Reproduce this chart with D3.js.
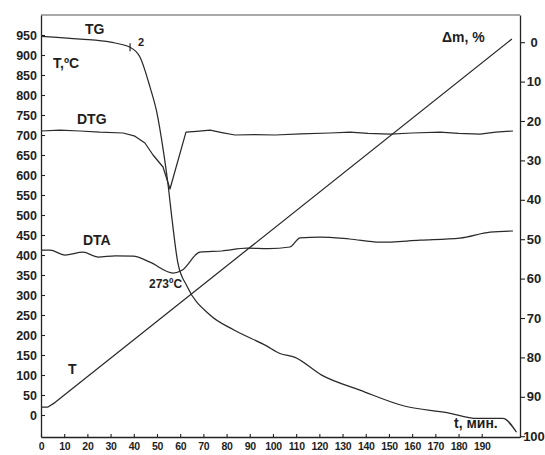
<!doctype html>
<html>
<head>
<meta charset="UTF-8" />
<title>TG / DTG / DTA</title>
<script src="https://d3js.org/d3.v7.min.js"></script>
<style>
  body { margin: 0; background: #fff; }
  svg text { font-family: "Liberation Sans", Arial, sans-serif; fill: #1e1e1e; }
</style>
</head>
<body>
<div id="chart"></div>
<script>
// tick labels
const tempTicks = [0, 50, 100, 150, 200, 250, 300, 350, 400, 450, 500, 550, 600, 650, 700, 750, 800, 850, 900, 950];
const massTicks = [0, 10, 20, 30, 40, 50, 60, 70, 80, 90, 100];
const timeTicks = [0, 10, 20, 30, 40, 50, 60, 70, 80, 90, 100, 110, 120, 130, 140, 150, 160, 170, 180, 190];

// T, °C against time (min)
const tTime = [0, 3, 6, 203];
const tTemp = [20, 20, 31, 940];

// TG, mass loss %, right axis
const tgTime = [0, 17, 30, 38.4, 42.7, 47, 50, 52.6, 54.7, 56.5, 59, 63, 73, 83, 97, 103, 109.5, 121, 137.5, 157, 175, 188, 199, 205];
const tgMass = [-1.5, -0.8, 0, 1.3, 3.8, 11.4, 18, 27, 35.8, 45, 56, 62, 69.3, 73, 77, 79, 80, 84.5, 88.3, 92.4, 94, 95.5, 95.5, 99];

// DTG, drawn on the left scale
const dtgTime = [0, 8.2, 16.8, 25.4, 35.4, 40.5, 44.8, 48.3, 52.6, 55.6, 62.5, 67, 72.9, 78, 83.6, 92, 100.9, 112, 124.6, 133.2, 141, 150.5, 160, 172, 180, 189.3, 196, 203.5];
const dtgVal  = [710, 712, 710, 707, 705, 697, 680, 650, 620, 565, 707, 709, 712, 706, 700, 701, 700, 703, 705, 707, 704, 702, 705, 707, 704, 702, 707, 710];

// DTA, drawn on the left scale
const dtaTime = [0, 3.9, 10.3, 18.1, 24.6, 32, 39.7, 47, 56.9, 60.8, 68.5, 78, 88.8, 98, 107.3, 111.7, 120.3, 133, 146.1, 163.4, 180.6, 193.6, 203.5];
const dtaVal  = [412, 412, 400, 407, 395, 398, 397, 382, 355, 362, 407, 410, 417, 416, 420, 443, 445, 440, 432, 437, 442, 457, 460];

const width = 545, height = 455;
const margin = { left: 41, right: 520, top: 15, bottom: 437 };

const x = d3.scaleLinear().domain([0, 206.5]).range([margin.left, margin.right]);
const yT = d3.scaleLinear().domain([-55, 1000]).range([margin.bottom, margin.top]);
const yM = d3.scaleLinear().domain([-6.9, 100.2]).range([margin.top, margin.bottom]);

const svg = d3.select("#chart").append("svg")
    .attr("width", width)
    .attr("height", height);

svg.append("rect").attr("width", width).attr("height", height).attr("fill", "#fff");

// frame top
svg.append("line")
    .attr("x1", margin.left).attr("x2", margin.right)
    .attr("y1", margin.top).attr("y2", margin.top)
    .attr("stroke", "#555").attr("stroke-width", 1.2);

// axes
const gL = svg.append("g")
    .attr("transform", `translate(${margin.left},0)`)
    .call(d3.axisLeft(yT).tickValues(tempTicks).tickSizeInner(-4).tickSizeOuter(0).tickPadding(4));

const gR = svg.append("g")
    .attr("transform", `translate(${margin.right},0)`)
    .call(d3.axisRight(yM).tickValues(massTicks).tickSizeInner(5).tickSizeOuter(0));
gR.selectAll("text").attr("x", 14).attr("text-anchor", "middle");

const gB = svg.append("g")
    .attr("transform", `translate(0,${margin.bottom})`)
    .call(d3.axisBottom(x).tickValues(timeTicks).tickSizeInner(-3).tickSizeOuter(0).tickPadding(6));

[gL, gR, gB].forEach(g => {
  g.select(".domain").attr("stroke", "#222").attr("stroke-width", 1.3);
  g.selectAll(".tick line").attr("stroke", "#222").attr("stroke-width", 1.1);
  g.selectAll("text").attr("font-weight", "bold").attr("fill", "#1e1e1e");
});
gL.selectAll("text").attr("font-size", 12.5);
gR.selectAll("text").attr("font-size", 13);
gB.selectAll("text").attr("font-size", 10.5).attr("letter-spacing", -0.3);

// curves
function drawLine(xs, ys, yScale, curve) {
  const pts = xs.map((t, i) => [t, ys[i]]);
  svg.append("path")
      .datum(pts)
      .attr("fill", "none")
      .attr("stroke", "#2a2a2a")
      .attr("stroke-width", 1.25)
      .attr("stroke-linejoin", "round")
      .attr("d", d3.line().x(d => x(d[0])).y(d => yScale(d[1])).curve(curve));
}

drawLine(tTime, tTemp, yT, d3.curveLinear);
drawLine(dtgTime, dtgVal, yT, d3.curveLinear);
drawLine(dtaTime, dtaVal, yT, d3.curveMonotoneX);
drawLine(tgTime, tgMass, yM, d3.curveMonotoneX);

// mark 2 on TG
svg.append("line")
    .attr("x1", x(tgTime[3])).attr("x2", x(tgTime[3]))
    .attr("y1", yM(tgMass[3]) - 4).attr("y2", yM(tgMass[3]) + 4)
    .attr("stroke", "#2a2a2a").attr("stroke-width", 1.2);

// labels
const labels = [
  { text: "TG", x: 85, y: 34, size: 14 },
  { text: "2", x: 138, y: 46, size: 11 },
  { text: "T,ºC", x: 53, y: 68, size: 14 },
  { text: "DTG", x: 77, y: 124, size: 14 },
  { text: "DTA", x: 83, y: 245, size: 14 },
  { text: "273ºC", x: 149, y: 288, size: 12 },
  { text: "T", x: 68, y: 374, size: 14 },
  { text: "Δm, %", x: 442, y: 42, size: 14 },
  { text: "t, мин.", x: 454, y: 428, size: 14 }
];
svg.selectAll("text.lbl")
  .data(labels)
  .join("text")
    .attr("class", "lbl")
    .attr("x", d => d.x)
    .attr("y", d => d.y)
    .attr("font-size", d => d.size)
    .attr("font-weight", "bold")
    .text(d => d.text);
</script>
</body>
</html>
